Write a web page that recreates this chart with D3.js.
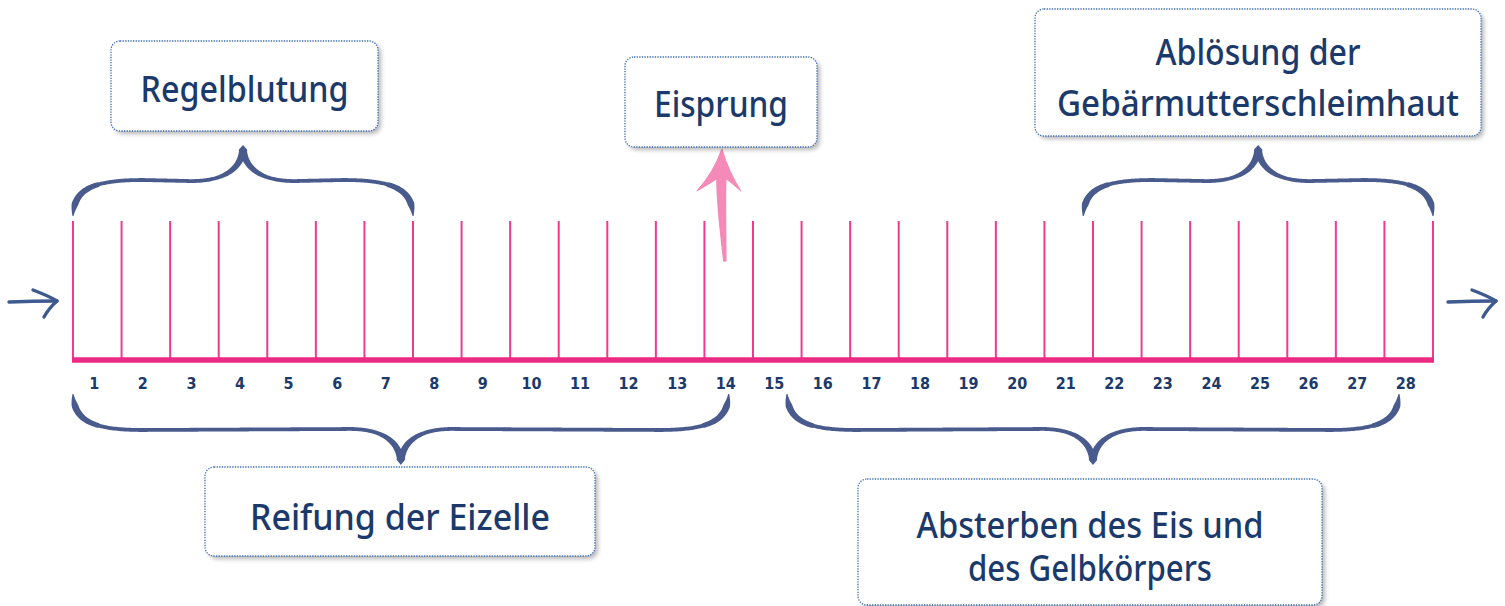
<!DOCTYPE html>
<html><head><meta charset="utf-8">
<script src="https://cdn.jsdelivr.net/npm/d3@7"></script>
<style>
html,body{margin:0;padding:0;background:#fff;}
svg{display:block;}
</style></head>
<body>
<svg id="chart" width="1505" height="606"></svg>
<script>
// ---- data ----
const days = d3.range(1, 29);               // tick labels 1..28
const boundaries = d3.range(0, 29);         // vertical day separators
const phaseNames = ["Regelblutung", "Reifung der Eizelle", "Ablösung der Gebärmutterschleimhaut", "Absterben des Eis und des Gelbkörpers"];
const phaseStart = [0, 0, 20.8, 14.7];
const phaseEnd   = [7, 13.5, 28, 27.3];
const phaseSide  = ["top", "bottom", "top", "bottom"];
const phaseLines = [["Regelblutung"], ["Reifung der Eizelle"], ["Ablösung der", "Gebärmutterschleimhaut"], ["Absterben des Eis und", "des Gelbkörpers"]];
const ovulationDay = 13.4;
const ovulationLabel = "Eisprung";

// ---- layout / style ----
const x = d3.scaleLinear().domain([0, 28]).range([73, 1433]);
const axisY = 360, lineTop = 221;
const pink = "#ec2a84", pinkLine = "#ee3b8c", navy = "#1b3a6b", braceCol = "#485b8c", arrowPink = "#f48ab7";
const handFont = "'Noto Sans', 'Open Sans', sans-serif";

const svg = d3.select("#chart");
const defs = svg.append("defs");
const f = defs.append("filter").attr("id", "shadow").attr("x", "-10%").attr("y", "-10%").attr("width", "130%").attr("height", "140%");
f.append("feDropShadow").attr("dx", 3).attr("dy", 3).attr("stdDeviation", 2).attr("flood-color", "#000").attr("flood-opacity", 0.28);

// vertical separators
svg.append("g").selectAll("line").data(boundaries).join("line")
  .attr("x1", d => x(d)).attr("x2", d => x(d))
  .attr("y1", lineTop).attr("y2", axisY)
  .attr("stroke", pinkLine).attr("stroke-width", 2);

// baseline
svg.append("line").attr("x1", x(0) - 1).attr("x2", x(28) + 1).attr("y1", axisY).attr("y2", axisY)
  .attr("stroke", pink).attr("stroke-width", 5.5);

// day labels via axis
const axisScale = d3.scaleBand().domain(days).range([x(0), x(28)]);
const axisG = svg.append("g").attr("transform", `translate(-3,${axisY + 16})`)
  .call(d3.axisBottom(axisScale).tickSize(0).tickPadding(0));
axisG.select(".domain").remove();
axisG.selectAll("text")
  .attr("fill", navy).attr("dy", "0.8em")
  .style("font-family", "'Liberation Sans Narrow', 'DejaVu Sans Condensed', 'Roboto Condensed', sans-serif")
  .style("font-weight", "bold").style("font-size", "16px");

// side arrows
function sideArrow(x0, x1, y) {
  const g = svg.append("g").attr("stroke", "#3f5a8e").attr("stroke-width", 3.4).attr("fill", "none")
    .attr("stroke-linecap", "round").attr("stroke-linejoin", "round");
  g.append("path").attr("d", `M${x0},${y} Q${(x0 + x1) / 2},${y - 1} ${x1},${y - 1}`);
  g.append("path").attr("d", `M${x1 - 24},${y - 12} Q${x1 - 8},${y - 6} ${x1},${y - 1} Q${x1 - 8},${y + 6} ${x1 - 13},${y + 15}`);
}
sideArrow(9, 57, 302);
sideArrow(1448, 1496, 302);

// braces (tapered brush strokes built from a centre line)
function braceCentre(x0, x1, side) {
  const s = side === "top" ? -1 : 1;
  const yEnd = side === "top" ? 216 : 394;
  const yMid = yEnd + s * 36;
  const yTip = yEnd + s * 67;
  const xm = (x0 + x1) / 2;
  return `M${x0},${yEnd} C${x0 + 1},${yEnd + s * 26} ${x0 + 18},${yMid} ${x0 + 70},${yMid}` +
    ` L${xm - 55},${yMid - s * 1} C${xm - 18},${yMid - s * 2} ${xm - 2},${yMid + s * 12} ${xm},${yTip}` +
    ` C${xm + 2},${yMid + s * 12} ${xm + 18},${yMid - s * 2} ${xm + 55},${yMid - s * 1}` +
    ` L${x1 - 70},${yMid} C${x1 - 18},${yMid} ${x1 - 1},${yEnd + s * 26} ${x1},${yEnd}`;
}
function widthAt(u, L) {
  const d = Math.min(u, L - u);          // distance to nearest end
  const dm = Math.abs(u - L / 2);        // distance to tip
  let w = 3.8;
  if (d < 45) w = 1 + Math.min(1, d / 12) * 5.8 - Math.max(0, (d - 12) / 33) * 2.0;
  if (dm < 40) w = Math.max(w, 3.8 + (1 - dm / 40) * 3.8);
  if (dm < 3) w = 8;
  return w;
}
const tmp = svg.append("path").attr("fill", "none").attr("stroke", "none");
const braceG = svg.append("g");
d3.range(phaseNames.length).forEach(i => {
  tmp.attr("d", braceCentre(x(phaseStart[i]), x(phaseEnd[i]), phaseSide[i]));
  const node = tmp.node();
  const L = node.getTotalLength();
  const N = 400;
  const left = [], right = [];
  for (let k = 0; k <= N; k++) {
    const u = L * k / N;
    const p = node.getPointAtLength(u);
    const p2 = node.getPointAtLength(Math.min(L, u + 0.5));
    const p1 = node.getPointAtLength(Math.max(0, u - 0.5));
    let dx = p2.x - p1.x, dy = p2.y - p1.y;
    const m = Math.hypot(dx, dy) || 1; dx /= m; dy /= m;
    const w = widthAt(u, L) / 2;
    left.push([p.x - dy * w, p.y + dx * w]);
    right.push([p.x + dy * w, p.y - dx * w]);
  }
  const pts = left.concat(right.reverse());
  braceG.append("path").attr("d", "M" + pts.map(p => p[0].toFixed(2) + "," + p[1].toFixed(2)).join("L") + "Z")
    .attr("fill", braceCol);
});
tmp.remove();

// ovulation arrow
const ox = x(ovulationDay);
svg.append("path")
  .attr("d", `M${ox - 7},176 C${ox - 7},205 ${ox - 3},235 ${ox + 0},261 L${ox + 2},261 C${ox + 2},235 ${ox + 1},205 ${ox + 2},176 Z`)
  .attr("fill", arrowPink).attr("stroke", arrowPink).attr("stroke-width", 1.5).attr("stroke-linejoin", "round");
svg.append("path")
  .attr("d", `M${ox - 2},149 Q${ox + 5},172 ${ox + 17},191 Q${ox + 7},182 ${ox + 1},178` +
    ` L${ox - 6},178 Q${ox - 13},183 ${ox - 27},191 Q${ox - 10},172 ${ox - 2},149 Z`)
  .attr("fill", arrowPink).attr("stroke", arrowPink).attr("stroke-width", 1).attr("stroke-linejoin", "round");

// label boxes
const boxes = [
  { lines: phaseLines[0], x0: 111, y0: 41, x1: 378, y1: 131, base: [102], widths: [208] },
  { lines: phaseLines[1], x0: 205, y0: 467, x1: 595, y1: 556, base: [530], widths: [300] },
  { lines: phaseLines[2], x0: 1035, y0: 9, x1: 1481, y1: 136, base: [65, 116], widths: [205, 402] },
  { lines: phaseLines[3], x0: 858, y0: 479, x1: 1322, y1: 605, base: [538, 581], widths: [347, 244] },
  { lines: [ovulationLabel], x0: 625, y0: 57, x1: 817, y1: 147, base: [117], widths: [134] }
];
const bg = svg.append("g");
boxes.forEach(b => {
  bg.append("rect").attr("x", b.x0).attr("y", b.y0).attr("width", b.x1 - b.x0).attr("height", b.y1 - b.y0)
    .attr("rx", 9).attr("fill", "#fff").attr("filter", "url(#shadow)");
  bg.append("rect").attr("x", b.x0).attr("y", b.y0).attr("width", b.x1 - b.x0).attr("height", b.y1 - b.y0)
    .attr("rx", 9).attr("fill", "none").attr("stroke", "#3d6db5").attr("stroke-width", 1.3)
    .attr("stroke-dasharray", "1.3,1.3");
  const cx = (b.x0 + b.x1) / 2;
  const t = bg.append("text").attr("text-anchor", "middle")
    .attr("fill", navy).style("font-family", handFont).style("font-weight", 500).style("font-size", "37px");
  b.lines.forEach((line, k) => {
    t.append("tspan").attr("x", cx).attr("y", b.base[k])
      .attr("textLength", b.widths[k]).attr("lengthAdjust", "spacingAndGlyphs")
      .text(line);
  });
});
</script>
</body></html>
